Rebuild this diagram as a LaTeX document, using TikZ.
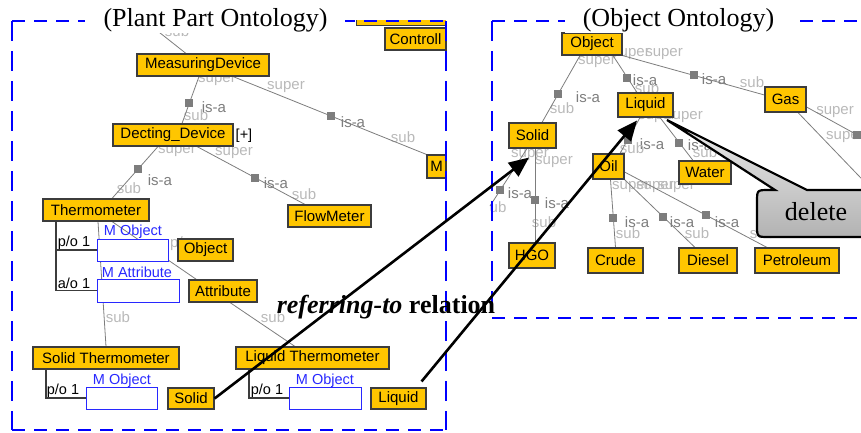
\documentclass[tikz,border=0pt]{standalone}
\usepackage{fontspec}
\setmainfont{Liberation Serif}
\setsansfont{Liberation Sans}
\usetikzlibrary{arrows.meta,backgrounds}
\definecolor{ob}{RGB}{255,198,0}
\definecolor{obd}{RGB}{60,60,60}
\definecolor{lg}{RGB}{185,185,185}
\definecolor{mg}{RGB}{125,125,125}
\definecolor{mblue}{RGB}{40,40,255}
\definecolor{dblue}{RGB}{0,0,255}
\tikzset{
 sf/.style={font=\sffamily\fontsize{15pt}{17pt}\selectfont},
 obox/.style={draw=obd, fill=ob, line width=1.1pt, inner sep=0pt, minimum height=22pt, sf},
 mbox/.style={draw=mblue, fill=white, line width=1pt, inner sep=0pt, minimum height=22pt},
 mlab/.style={text=mblue, inner sep=0pt, font=\sffamily\fontsize{14.5pt}{16pt}\selectfont},
 rel/.style={text=black, inner sep=0pt, font=\sffamily\fontsize{14.5pt}{16pt}\selectfont},
 supl/.style={text=lg, inner sep=0pt, sf},
 isal/.style={text=mg, inner sep=0pt, sf},
 sq/.style={fill=mg, minimum size=8pt, inner sep=0pt, draw=none},
 glink/.style={draw=mg, line width=0.8pt},
 plink/.style={draw=obd, line width=1.1pt},
 refarrow/.style={draw=black, line width=2.6pt, -{Triangle[length=20pt,width=17pt]}},
 hdash/.style={draw=dblue, line width=2.6pt, dash pattern=on 13pt off 9pt},
 vdash/.style={draw=dblue, line width=2.6pt, dash pattern=on 20pt off 10pt},
 title/.style={font=\fontsize{26pt}{30pt}\selectfont, inner sep=0pt, anchor=base},
}
\begin{document}
\begin{tikzpicture}[x=1pt,y=-1pt]
\useasboundingbox (0,0) rectangle (861,432);
\clip (0,0) rectangle (861,432);

% ---------- left ontology boxes
\node[obox, minimum width=61pt] (ctl) at (415.5,39) {Controll};
\node[obox, minimum width=132pt] (md) at (203,65) {MeasuringDevice};
\node[obox, minimum width=120pt] (dd) at (173,135) {Decting\_Device};
\node[rel] (plus) at (244,136) {[+]};
\node[obox, minimum width=19pt, minimum height=23pt] (mm) at (436.5,166.5) {M};
\node[obox, minimum width=106pt] (th) at (96,210) {Thermometer};
\node[obox, minimum width=83pt] (fm) at (329.5,216) {FlowMeter};
\node[mbox, minimum width=71pt] (mo1) at (132.5,250) {};
\node[mlab] (mo1l) at (133,232) {M Object};
\node[obox, minimum width=55pt] (obj) at (205.5,250) {Object};
\node[mbox, minimum width=82pt, minimum height=23pt] (ma1) at (138,290.5) {};
\node[mlab] (ma1l) at (137,272) {M Attribute};
\node[obox, minimum width=68pt] (attr) at (223,291) {Attribute};
\node[obox, minimum width=146pt] (sth) at (106,358) {Solid Thermometer};
\node[obox, minimum width=153pt] (lth) at (312.5,358) {Liquid Thermometer};
\node[mbox, minimum width=71pt] (mo2) at (121.5,398) {};
\node[mlab] (mo2l) at (122,381) {M Object};
\node[obox, minimum width=46pt, minimum height=21pt] (sol1) at (191,398.5) {Solid};
\node[mbox, minimum width=72pt] (mo3) at (325,398) {};
\node[mlab] (mo3l) at (325,381) {M Object};
\node[obox, minimum width=55pt, minimum height=21pt] (liq1) at (398.5,398.5) {Liquid};
\node[rel] (po1) at (74,243) {p/o 1};
\node[rel] (ao1) at (74,283) {a/o 1};
\node[rel] (po2) at (63,391) {p/o 1};
\node[rel] (po3) at (267,391) {p/o 1};

\draw[plink] ([xshift=-40pt]th.south) |- (mo1.west);
\draw[plink] ([xshift=-40pt]th.south) |- (ma1.west);
\draw[plink] ([xshift=-60pt]sth.south) |- (mo2.west);
\draw[plink] ([xshift=-63.5pt]lth.south) |- (mo3.west);

% ---------- right ontology boxes
\node[obox, minimum width=60pt] (objR) at (592,44) {Object};
\node[obox, minimum width=55pt, minimum height=24pt] (liqR) at (645.5,105) {Liquid};
\node[obox, minimum width=41pt, minimum height=25pt] (gas) at (785.5,99.5) {Gas};
\node[obox, minimum width=47pt, minimum height=25pt] (solR) at (532.5,135.5) {Solid};
\node[obox, minimum width=31pt, minimum height=25pt] (oil) at (608.5,166.5) {Oil};
\node[obox, minimum width=52pt, minimum height=23pt] (water) at (705,172.5) {Water};
\node[obox, minimum width=46pt, minimum height=25pt] (hgo) at (532,255.5) {HGO};
\node[obox, minimum width=55pt, minimum height=25pt] (crude) at (615.5,260.5) {Crude};
\node[obox, minimum width=58pt, minimum height=25pt] (diesel) at (708,260.5) {Diesel};
\node[obox, minimum width=84pt, minimum height=25pt] (petro) at (797,260.5) {Petroleum};

% ---------- gray is-a links (behind boxes)
\begin{scope}[on background layer]
% labels
\node[supl] (s0) at (177,31) {sub};
\node[supl] (s1a) at (217,80) {super};
\node[isal] (i1) at (214,107) {is-a};
\node[supl] (s1b) at (196,115) {sub};
\node[supl] (s2a) at (286,87) {super};
\node[isal] (i2) at (353,122) {is-a};
\node[supl] (s2b) at (403,137) {sub};
\node[supl] (s3a) at (177,151) {super};
\node[isal] (i3) at (160,180) {is-a};
\node[supl] (s3b) at (129,188) {sub};
\node[supl] (s4a) at (234,153) {super};
\node[isal] (i4) at (276,183) {is-a};
\node[supl] (s4b) at (304,194) {sub};
\node[supl] (s5) at (118,317) {sub};
\node[supl, anchor=west] (s6) at (170,244) {p/o};
\node[supl] (s7) at (273,317) {sub};
\node[supl] (r1a) at (597,62) {super};
\node[isal] (r1i) at (588,97) {is-a};
\node[supl] (r1b) at (562,108) {sub};
\node[isal] (r2i) at (645,80) {is-a};
\node[supl] (r2b) at (647,88) {sub};
\node[supl] (r3a) at (631,54) {super};
\node[supl] (r3c) at (664,54) {super};
\node[isal] (r3i) at (714,79) {is-a};
\node[supl] (r3b) at (752,82) {sub};
\node[supl] (r4a) at (835,112) {super};
\node[supl, anchor=west] (r4b) at (826,137) {super};
\node[supl] (r5a) at (657,117) {super};
\node[supl] (r5c) at (684,117) {super};
\node[isal] (r5i) at (652,144) {is-a};
\node[supl] (r5b) at (632,148) {sub};
\node[isal] (r6i) at (700,145) {is-a};
\node[supl] (r6b) at (705,152) {sub};
\node[supl] (r7a) at (530,155) {super};
\node[supl] (r7c) at (554,162) {super};
\node[isal] (r7i) at (557,203) {is-a};
\node[supl] (r7b) at (544,222) {sub};
\node[isal] (r8i) at (520,193) {is-a};
\node[supl] (r8b) at (498,207) {ub};
\node[supl] (r9a) at (631,187) {super};
\node[supl] (r9c) at (655,187) {super};
\node[supl] (r9d) at (676,187) {super};
\node[isal] (r9i) at (637,222) {is-a};
\node[supl] (r9b) at (628,233) {sub};
\node[isal] (r10i) at (682,222) {is-a};
\node[supl] (r10b) at (697,233) {sub};
\node[isal] (r11i) at (727,222) {is-a};
\node[supl] (r11b) at (762,233) {sub};
% left links
\coordinate (mdup) at (150,25);
\draw[glink] ([xshift=-17pt]md.north) -- (mdup);
\draw[glink] ([xshift=-4pt]md.south) -- node[sq,pos=0.56] (q1) {} ([xshift=9pt]dd.north);
\draw[glink] ([xshift=30pt]md.south) -- node[sq,pos=0.505] (q2) {} (mm.north west);
\draw[glink] ([xshift=-15pt]dd.south) -- node[sq,pos=0.43] (q3) {} ([xshift=16pt]th.north);
\draw[glink] ([xshift=24pt]dd.south) -- node[sq,pos=0.54] (q4) {} ([xshift=-24.5pt]fm.north);
\draw[glink] ([xshift=2pt]th.south) -- (sth.north);
\draw[glink] ([xshift=16pt]th.south) -- ([xshift=8pt]attr.north west);
\draw[glink] ([xshift=7pt]attr.south) -- ([xshift=-17.5pt]lth.north);
% right links
\draw[glink] ([xshift=-12pt]objR.south) -- node[sq,pos=0.57] (q6) {} ([xshift=9.5pt]solR.north);
\draw[glink] ([xshift=21pt]objR.south) -- node[sq,pos=0.6] (q7) {} ([xshift=-8.5pt]liqR.north);
\draw[glink] (objR.south east) -- node[sq,pos=0.5] (q8) {} ([yshift=4.5pt]gas.west);
\coordinate (gr1) at (870,142);
\coordinate (gr2) at (870,187.5);
\draw[glink] ([yshift=-7.5pt]gas.east) -- node[sq,pos=0.8] (q9) {} (gr1);
\draw[glink] ([xshift=12.5pt]gas.south) -- (gr2);
\draw[glink] ([xshift=-5.5pt]liqR.south) -- node[sq,pos=0.62] (q10) {} ([xshift=11.5pt]oil.north);
\draw[glink] ([xshift=14.5pt]liqR.south) -- node[sq,pos=0.59] (q11) {} ([xshift=-12pt]water.north);
\draw[glink] ([xshift=2.5pt]solR.south) -- node[sq,pos=0.55] (q12) {} ([xshift=3pt]hgo.north);
\coordinate (solL) at (490,206);
\draw[glink] ([xshift=-5.5pt]solR.south) -- node[sq,pos=0.72] (q13) {} (solL);
\draw[glink] ([xshift=2pt]oil.south) -- node[sq,pos=0.57] (q14) {} (crude.north);
\draw[glink] (oil.south east) -- node[sq,pos=0.55] (q15) {} ([xshift=-13pt]diesel.north);
\draw[glink] ([yshift=-5.5pt]oil.east) -- node[sq,pos=0.57] (q16) {} ([xshift=-30pt]petro.north);
\end{scope}

% strip of a box above Controll
\fill[ob] (356,20) rectangle (446,25);
\draw[obd, line width=1pt] (356,20) -- (356,25) -- (446,25);

% ---------- dashed frames
\draw[hdash] (12,21) -- (446,21);
\draw[hdash] (12,430) -- (446,430);
\draw[vdash] (12,21) -- (12,430);
\draw[vdash] (446,21) -- (446,430);
\draw[hdash] (492,21) -- (880,21);
\draw[hdash] (492,318) -- (880,318);
\draw[vdash] (492,21) -- (492,318);

% ---------- titles
\fill[white] (85,0) rectangle (345,33);
\node[title] (t1) at (215.5,26) {(Plant Part Ontology)};
\fill[white] (565,0) rectangle (793,33);
\node[title] (t2) at (678.5,26) {(Object Ontology)};

% ---------- delete callout
\path[draw=black, line width=2.2pt, line join=miter, top color=gray!15, bottom color=gray!60]
  (667,120) -- (807,190) -- (880,190) -- (880,237) -- (769,237)
  .. controls (757,237) .. (757,225) -- (757,202)
  .. controls (757,190) .. (769,190) -- (775,190) -- cycle;
\node[title] (del) at (816,220) {delete};

% ---------- referring-to arrows
\draw[refarrow] (sol1.east) -- ([xshift=-3.5pt,yshift=-9pt]solR.south);
\draw[refarrow] ([xshift=-5pt,yshift=6pt]liq1.north east) -- ([xshift=-8.5pt,yshift=-3pt]liqR.south);
\node[title, font=\bfseries\fontsize{26pt}{30pt}\selectfont] (reft) at (386,313) {\textit{referring-to} relation};
\end{tikzpicture}
\end{document}
